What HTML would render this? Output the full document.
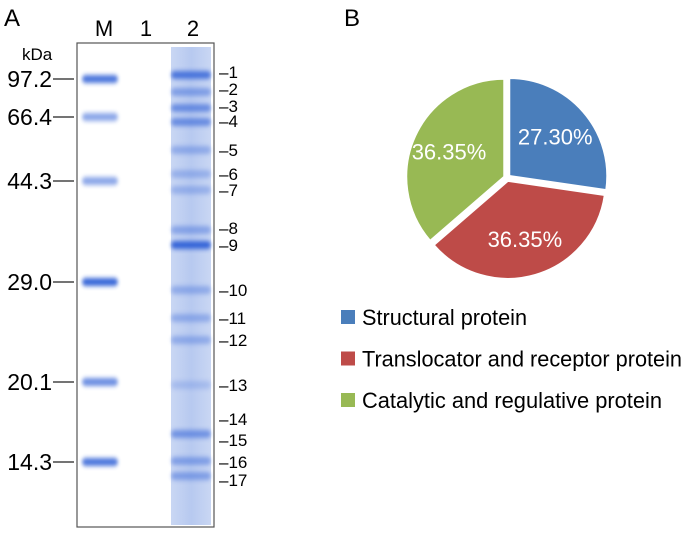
<!DOCTYPE html>
<html><head><meta charset="utf-8"><style>
html,body{margin:0;padding:0;background:#fff;}
svg{display:block;font-family:"Liberation Sans",sans-serif;}
</style></head><body>
<svg id="fig" width="685" height="534" viewBox="0 0 685 534">
<defs>
<filter id="blur1" x="-20%" y="-200%" width="140%" height="500%"><feGaussianBlur stdDeviation="1.8 2.4"/></filter>
<linearGradient id="laneg" x1="0" x2="1"><stop offset="0" stop-color="#c3d2f2"/><stop offset="0.5" stop-color="#afc3ee"/><stop offset="1" stop-color="#c3d2f2"/></linearGradient>
</defs>
<text x="4" y="26" font-size="24">A</text>
<text x="344" y="26" font-size="24">B</text>
<g id="gel">
<rect x="77" y="43" width="137" height="484" fill="#fff" stroke="#555" stroke-width="1.2"/>
<rect x="171" y="47" width="40" height="478" fill="url(#laneg)" opacity="0.9"/>
<g id="bands"></g>
</g>
<text x="104" y="36" font-size="22" text-anchor="middle">M</text>
<text x="146" y="36" font-size="22" text-anchor="middle">1</text>
<text x="193" y="36" font-size="22" text-anchor="middle">2</text>
<text x="22" y="60" font-size="17">kDa</text>
<g id="markers"></g>
<g id="bandnums"></g>
<g id="pie"></g>
<g id="legend"></g>
</svg>
<script>
const NS="http://www.w3.org/2000/svg";
const markerLabels=["97.2","66.4","44.3","29.0","20.1","14.3"];
const markerY=[79,117,181,282,382,462];
const markerIntensity=[0.85,0.55,0.55,0.95,0.7,0.85];
const bandNumbers=["1","2","3","4","5","6","7","8","9","10","11","12","13","14","15","16","17"];
const bandNumY=[72,89,106,121,150,174,190,228,245,290,318,340,385,419,440,462,480];
const lane2BandY=[75,92,108,122,150,174,190,230,245,290,318,340,385,434,461,476];
const lane2Intensity=[0.8,0.45,0.6,0.6,0.35,0.3,0.3,0.4,0.95,0.35,0.35,0.35,0.2,0.55,0.45,0.45];
const categories=["Structural protein","Translocator and receptor protein","Catalytic and regulative protein"];
const shares=[27.30,36.35,36.35];
const labels=["27.30%","36.35%","36.35%"];
const colors=["#4a7ebb","#be4b48","#98b954"];

function el(tag,attrs,parent){const e=document.createElementNS(NS,tag);for(const k in attrs)e.setAttribute(k,attrs[k]);parent.appendChild(e);return e;}
const bands=document.getElementById('bands');
markerY.forEach((y,i)=>{
  const b=el('rect',{x:82,y:y-4,width:36,height:8,rx:4,fill:'#2f5fd6',opacity:markerIntensity[i],filter:'url(#blur1)'},bands);
  
  
});
lane2BandY.forEach((y,i)=>{
  const b=el('rect',{x:171,y:y-4,width:40,height:8,rx:4,fill:'#2f5fd6',opacity:lane2Intensity[i],filter:'url(#blur1)'},bands);
  
  
});
const mk=document.getElementById('markers');
markerY.forEach((y,i)=>{
  const t=el('text',{x:52,y:y+8,'font-size':23,'text-anchor':'end'},mk);
  t.textContent=markerLabels[i];
  
  
  const l=el('line',{x1:53,x2:74,y1:y,y2:y,stroke:'#222','stroke-width':1.2},mk);
  
  
});
const bn=document.getElementById('bandnums');
bandNumY.forEach((y,i)=>{
  const t=el('text',{x:219,y:y+6,'font-size':17},bn);
  t.textContent='\u2013'+bandNumbers[i];
  
  
});
const pie=document.getElementById('pie');
const cx=507,cy=178,r=98,explode=3;
const total=shares.reduce((a,b)=>a+b,0);
let a0=-Math.PI/2;
shares.forEach((v,i)=>{
  const a1=a0+v/total*2*Math.PI, mid=(a0+a1)/2;
  const ox=cx+explode*Math.cos(mid), oy=cy+explode*Math.sin(mid);
  const large=(a1-a0)>Math.PI?1:0;
  const d=`M${ox},${oy} L${ox+r*Math.cos(a0)},${oy+r*Math.sin(a0)} A${r},${r} 0 ${large} 1 ${ox+r*Math.cos(a1)},${oy+r*Math.sin(a1)} Z`;
  const p=el('path',{d:d,fill:colors[i],stroke:'#fff','stroke-width':2},pie);
  
  
  const lr=r*0.62;
  const t=el('text',{x:ox+lr*Math.cos(mid),y:oy+lr*Math.sin(mid)+8,'font-size':22,fill:'#fff','text-anchor':'middle'},pie);
  t.textContent=labels[i];
  
  
  a0=a1;
});
const lg=document.getElementById('legend');
categories.forEach((c,i)=>{
  const y=317+i*41.5;
  const s=el('rect',{x:341,y:y-7,width:14,height:14,fill:colors[i]},lg);
  
  
  const t=el('text',{x:362,y:y+8,'font-size':22,textLength:(i===1?320:(i===0?165:300)),lengthAdjust:'spacingAndGlyphs'},lg);
  t.textContent=c;
  
  
});
</script>
</body></html>
